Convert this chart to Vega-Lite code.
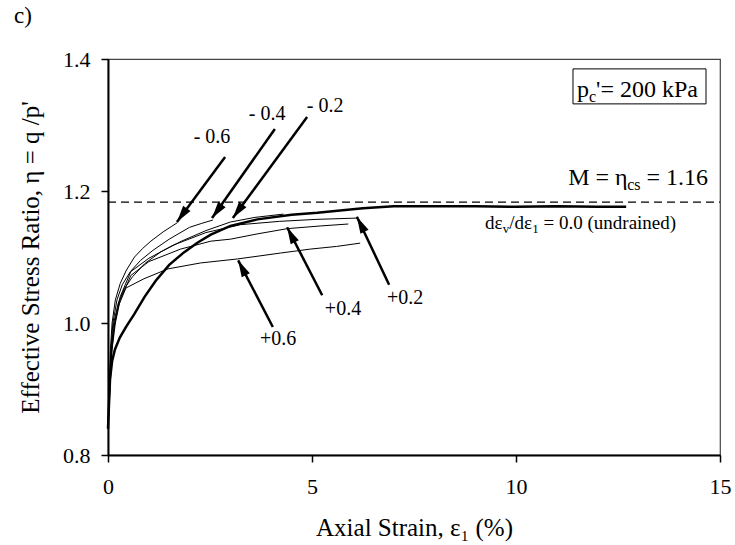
{
  "$schema": "https://vega.github.io/schema/vega-lite/v6.json",
  "width": 612,
  "height": 396,
  "autosize": {"type": "none"},
  "padding": {"left": 108, "top": 59, "right": 15, "bottom": 90},
  "background": "white",
  "config": {
    "font": "Liberation Serif",
    "view": {"stroke": "#444", "strokeWidth": 1.2},
    "axis": {
      "grid": false, "domainColor": "black", "domainWidth": 2,
      "tickColor": "black", "tickWidth": 1.5, "tickSize": 7,
      "labelColor": "black", "labelFontSize": 22, "labelFont": "Liberation Serif",
      "titleColor": "black", "titleFontSize": 25, "titleFontWeight": "normal", "titleFont": "Liberation Serif"
    }
  },
  "title": {"text": "c)", "anchor": "start", "frame": "group", "fontSize": 23, "fontWeight": "normal", "color": "black", "dx": -94, "offset": 20},
  "datasets": {
    "curves": [
      {"s": "undrained", "x": 0, "y": 0.84}, {"s": "undrained", "x": 0.02, "y": 0.87}, {"s": "undrained", "x": 0.05, "y": 0.915},
      {"s": "undrained", "x": 0.1, "y": 0.942}, {"s": "undrained", "x": 0.17, "y": 0.96}, {"s": "undrained", "x": 0.29, "y": 0.978},
      {"s": "undrained", "x": 0.45, "y": 0.995}, {"s": "undrained", "x": 0.64, "y": 1.013}, {"s": "undrained", "x": 0.9, "y": 1.04},
      {"s": "undrained", "x": 1.17, "y": 1.064}, {"s": "undrained", "x": 1.5, "y": 1.088}, {"s": "undrained", "x": 1.86, "y": 1.107},
      {"s": "undrained", "x": 2.2, "y": 1.122}, {"s": "undrained", "x": 2.52, "y": 1.134}, {"s": "undrained", "x": 3.0, "y": 1.147},
      {"s": "undrained", "x": 3.66, "y": 1.157}, {"s": "undrained", "x": 4.5, "y": 1.164}, {"s": "undrained", "x": 5.13, "y": 1.167},
      {"s": "undrained", "x": 6.25, "y": 1.174}, {"s": "undrained", "x": 7.0, "y": 1.177}, {"s": "undrained", "x": 8.0, "y": 1.177},
      {"s": "undrained", "x": 9.0, "y": 1.177}, {"s": "undrained", "x": 10.0, "y": 1.176}, {"s": "undrained", "x": 11.0, "y": 1.177},
      {"s": "undrained", "x": 12.0, "y": 1.176}, {"s": "undrained", "x": 12.7, "y": 1.176},

      {"s": "-0.6", "x": 0, "y": 0.84}, {"s": "-0.6", "x": 0.03, "y": 0.9}, {"s": "-0.6", "x": 0.06, "y": 0.96},
      {"s": "-0.6", "x": 0.1, "y": 1.0}, {"s": "-0.6", "x": 0.18, "y": 1.035}, {"s": "-0.6", "x": 0.3, "y": 1.06},
      {"s": "-0.6", "x": 0.45, "y": 1.08}, {"s": "-0.6", "x": 0.65, "y": 1.1}, {"s": "-0.6", "x": 0.85, "y": 1.113},
      {"s": "-0.6", "x": 1.05, "y": 1.124}, {"s": "-0.6", "x": 1.35, "y": 1.138}, {"s": "-0.6", "x": 1.55, "y": 1.146},
      {"s": "-0.6", "x": 1.7, "y": 1.152},

      {"s": "-0.4", "x": 0, "y": 0.84}, {"s": "-0.4", "x": 0.03, "y": 0.9}, {"s": "-0.4", "x": 0.07, "y": 0.96},
      {"s": "-0.4", "x": 0.12, "y": 1.0}, {"s": "-0.4", "x": 0.22, "y": 1.035}, {"s": "-0.4", "x": 0.35, "y": 1.058},
      {"s": "-0.4", "x": 0.55, "y": 1.078}, {"s": "-0.4", "x": 0.8, "y": 1.095}, {"s": "-0.4", "x": 1.1, "y": 1.11},
      {"s": "-0.4", "x": 1.5, "y": 1.127}, {"s": "-0.4", "x": 2.0, "y": 1.145}, {"s": "-0.4", "x": 2.3, "y": 1.151},
      {"s": "-0.4", "x": 2.57, "y": 1.156},

      {"s": "-0.2", "x": 0, "y": 0.84}, {"s": "-0.2", "x": 0.04, "y": 0.9}, {"s": "-0.2", "x": 0.08, "y": 0.96},
      {"s": "-0.2", "x": 0.14, "y": 1.0}, {"s": "-0.2", "x": 0.25, "y": 1.03}, {"s": "-0.2", "x": 0.4, "y": 1.052},
      {"s": "-0.2", "x": 0.6, "y": 1.07}, {"s": "-0.2", "x": 0.9, "y": 1.09}, {"s": "-0.2", "x": 1.3, "y": 1.108},
      {"s": "-0.2", "x": 1.8, "y": 1.124}, {"s": "-0.2", "x": 2.4, "y": 1.14}, {"s": "-0.2", "x": 3.0, "y": 1.153},
      {"s": "-0.2", "x": 3.6, "y": 1.16}, {"s": "-0.2", "x": 4.3, "y": 1.165},

      {"s": "+0.2", "x": 0, "y": 0.84}, {"s": "+0.2", "x": 0.04, "y": 0.9}, {"s": "+0.2", "x": 0.09, "y": 0.96},
      {"s": "+0.2", "x": 0.16, "y": 1.0}, {"s": "+0.2", "x": 0.3, "y": 1.04}, {"s": "+0.2", "x": 0.56, "y": 1.078},
      {"s": "+0.2", "x": 1.0, "y": 1.098}, {"s": "+0.2", "x": 1.6, "y": 1.118}, {"s": "+0.2", "x": 2.4, "y": 1.137},
      {"s": "+0.2", "x": 3.25, "y": 1.149}, {"s": "+0.2", "x": 4.2, "y": 1.154}, {"s": "+0.2", "x": 5.1, "y": 1.157},
      {"s": "+0.2", "x": 6.13, "y": 1.159},

      {"s": "+0.4", "x": 0, "y": 0.84}, {"s": "+0.4", "x": 0.05, "y": 0.9}, {"s": "+0.4", "x": 0.1, "y": 0.96},
      {"s": "+0.4", "x": 0.18, "y": 1.0}, {"s": "+0.4", "x": 0.3, "y": 1.035}, {"s": "+0.4", "x": 0.56, "y": 1.072},
      {"s": "+0.4", "x": 1.0, "y": 1.093}, {"s": "+0.4", "x": 1.78, "y": 1.112}, {"s": "+0.4", "x": 2.52, "y": 1.124},
      {"s": "+0.4", "x": 3.0, "y": 1.127}, {"s": "+0.4", "x": 3.66, "y": 1.135}, {"s": "+0.4", "x": 4.4, "y": 1.143},
      {"s": "+0.4", "x": 5.2, "y": 1.147}, {"s": "+0.4", "x": 5.89, "y": 1.15},

      {"s": "+0.6", "x": 0, "y": 0.84}, {"s": "+0.6", "x": 0.04, "y": 0.9}, {"s": "+0.6", "x": 0.08, "y": 0.95},
      {"s": "+0.6", "x": 0.14, "y": 0.99}, {"s": "+0.6", "x": 0.25, "y": 1.025}, {"s": "+0.6", "x": 0.44, "y": 1.053},
      {"s": "+0.6", "x": 0.88, "y": 1.067}, {"s": "+0.6", "x": 1.47, "y": 1.082}, {"s": "+0.6", "x": 2.27, "y": 1.091},
      {"s": "+0.6", "x": 3.17, "y": 1.097}, {"s": "+0.6", "x": 4.23, "y": 1.106}, {"s": "+0.6", "x": 4.96, "y": 1.112},
      {"s": "+0.6", "x": 5.6, "y": 1.116}, {"s": "+0.6", "x": 6.18, "y": 1.121}
    ],
    "mline": [{"x": 0, "x2": 15, "y": 1.183}],
    "arrows": [
      {"a": "-0.6", "dir": "neg", "x": 1.69, "y": 1.153, "x2": 2.87, "y2": 1.2515},
      {"a": "-0.4", "dir": "neg", "x": 2.55, "y": 1.159, "x2": 4.09, "y2": 1.294},
      {"a": "-0.2", "dir": "neg", "x": 3.06, "y": 1.159, "x2": 4.88, "y2": 1.312},
      {"a": "+0.6", "dir": "pos", "x": 3.19, "y": 1.095, "x2": 4.04, "y2": 0.994},
      {"a": "+0.4", "dir": "pos", "x": 4.39, "y": 1.145, "x2": 5.25, "y2": 1.042},
      {"a": "+0.2", "dir": "pos", "x": 6.1, "y": 1.161, "x2": 6.89, "y2": 1.058}
    ],
    "labels": [
      {"t": "- 0.6", "x": 2.55, "y": 1.282},
      {"t": "- 0.4", "x": 3.9, "y": 1.317},
      {"t": "- 0.2", "x": 5.32, "y": 1.329},
      {"t": "+0.6", "x": 4.17, "y": 0.976},
      {"t": "+0.4", "x": 5.76, "y": 1.021},
      {"t": "+0.2", "x": 7.28, "y": 1.038}
    ],
    "box": [{"x": 11.397, "x2": 14.657, "y": 1.385, "y2": 1.332}],
    "pieces": [
      {"t": "p", "k": "big", "x": 11.495, "y": 1.3424},
      {"t": "c", "k": "bigsub", "x": 11.789, "y": 1.3424},
      {"t": "'= 200 kPa", "k": "big", "x": 11.963, "y": 1.3424},
      {"t": "M = η", "k": "big", "x": 11.279, "y": 1.209},
      {"t": "cs", "k": "bigsub", "x": 12.725, "y": 1.209},
      {"t": "= 1.16", "k": "big", "x": 13.199, "y": 1.209},
      {"t": "dε", "k": "small", "x": 9.24, "y": 1.1424},
      {"t": "v", "k": "smallsub", "x": 9.676, "y": 1.1424},
      {"t": "/dε", "k": "small", "x": 9.836, "y": 1.1424},
      {"t": "1", "k": "smallsub", "x": 10.4, "y": 1.1424},
      {"t": "= 0.0 (undrained)", "k": "small", "x": 10.675, "y": 1.1424}
    ]
  },
  "encoding": {
    "x": {
      "field": "x", "type": "quantitative",
      "scale": {"domain": [0, 15], "nice": false, "zero": false},
      "axis": {"values": [0, 5, 10, 15], "title": "Axial Strain, ε₁ (%)", "labelPadding": 14, "titlePadding": 18, "labelFlush": false}
    },
    "y": {
      "field": "y", "type": "quantitative",
      "scale": {"domain": [0.8, 1.4], "nice": false, "zero": false},
      "axis": {"values": [0.8, 1.0, 1.2, 1.4], "format": ".1f", "title": "Effective Stress Ratio, η = q /p'", "labelPadding": 11, "titlePadding": 19, "labelFlush": false}
    }
  },
  "layer": [
    {
      "data": {"name": "curves"},
      "transform": [{"filter": "datum.s !== 'undrained'"}],
      "mark": {"type": "line", "color": "black", "strokeWidth": 1},
      "encoding": {"detail": {"field": "s"}}
    },
    {
      "data": {"name": "curves"},
      "transform": [{"filter": "datum.s === 'undrained'"}],
      "mark": {"type": "line", "color": "black", "strokeWidth": 2.5},
      "encoding": {"detail": {"field": "s"}}
    },
    {
      "data": {"name": "mline"},
      "mark": {"type": "rule", "color": "black", "strokeWidth": 1.3, "strokeDash": [8, 5]},
      "encoding": {"x2": {"field": "x2"}}
    },
    {
      "data": {"name": "arrows"},
      "mark": {"type": "rule", "color": "black", "strokeWidth": 2.5},
      "encoding": {"x2": {"field": "x2"}, "y2": {"field": "y2"}}
    },
    {
      "data": {"name": "arrows"},
      "transform": [{"filter": "datum.dir === 'neg'"}],
      "mark": {"type": "point", "shape": "M0,0L-0.65,2.4L0.65,2.4Z", "filled": true, "color": "black", "opacity": 1, "size": 196, "angle": 216, "strokeWidth": 0},
      "encoding": {}
    },
    {
      "data": {"name": "arrows"},
      "transform": [{"filter": "datum.dir === 'pos'"}],
      "mark": {"type": "point", "shape": "M0,0L-0.65,2.4L0.65,2.4Z", "filled": true, "color": "black", "opacity": 1, "size": 196, "angle": 333, "strokeWidth": 0},
      "encoding": {}
    },
    {
      "data": {"name": "labels"},
      "mark": {"type": "text", "fontSize": 20, "align": "center", "baseline": "middle", "color": "black"},
      "encoding": {"text": {"field": "t"}}
    },
    {
      "data": {"name": "box"},
      "mark": {"type": "rect", "fill": "white", "fillOpacity": 0, "stroke": "black", "strokeWidth": 1},
      "encoding": {"x2": {"field": "x2"}, "y2": {"field": "y2"}}
    },
    {
      "data": {"name": "pieces"},
      "transform": [{"filter": "datum.k === 'big'"}],
      "mark": {"type": "text", "fontSize": 24, "align": "left", "baseline": "alphabetic", "color": "black"},
      "encoding": {"text": {"field": "t"}}
    },
    {
      "data": {"name": "pieces"},
      "transform": [{"filter": "datum.k === 'bigsub'"}],
      "mark": {"type": "text", "fontSize": 16, "align": "left", "baseline": "alphabetic", "dy": 5, "color": "black"},
      "encoding": {"text": {"field": "t"}}
    },
    {
      "data": {"name": "pieces"},
      "transform": [{"filter": "datum.k === 'small'"}],
      "mark": {"type": "text", "fontSize": 19, "align": "left", "baseline": "alphabetic", "color": "black"},
      "encoding": {"text": {"field": "t"}}
    },
    {
      "data": {"name": "pieces"},
      "transform": [{"filter": "datum.k === 'smallsub'"}],
      "mark": {"type": "text", "fontSize": 13, "align": "left", "baseline": "alphabetic", "dy": 4, "color": "black"},
      "encoding": {"text": {"field": "t"}}
    }
  ]
}
